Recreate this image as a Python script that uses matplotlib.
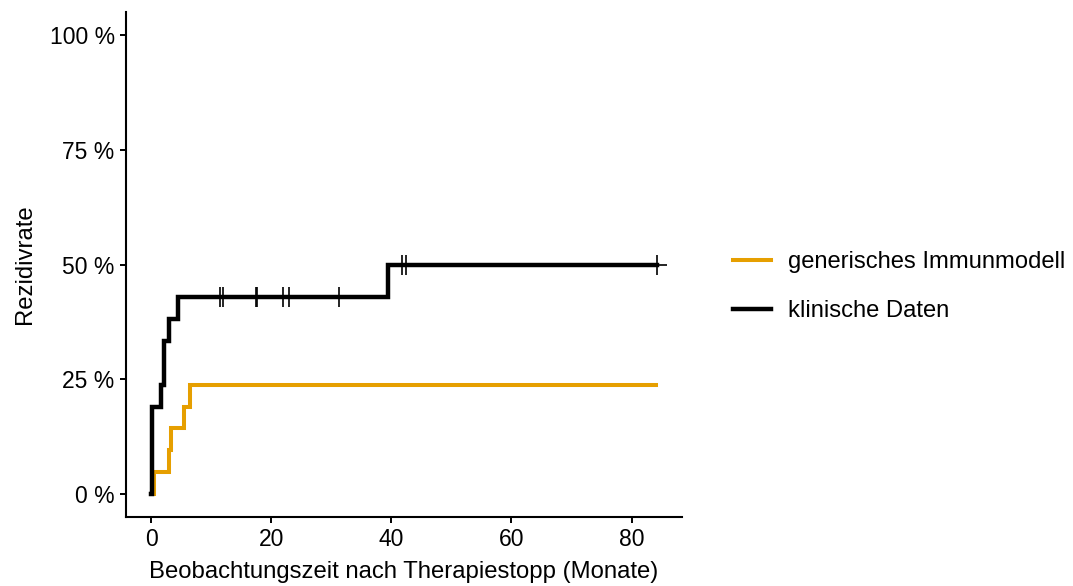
import numpy as np
import matplotlib
matplotlib.use("Agg")
import matplotlib.pyplot as plt
from matplotlib.ticker import FuncFormatter

plt.rcParams['font.family'] = ['Liberation Sans', 'DejaVu Sans']

# ---- data ----
series_names = ["generisches Immunmodell", "klinische Daten"]
series_colors = ["#E69F00", "#000000"]

model_times = [0, 0.5, 3.0, 3.3, 5.5, 6.4, 84.0]
model_rate = [0, 4.76, 9.52, 14.29, 19.05, 23.81, 23.81]

clin_times = [0, 0.2, 1.6, 2.2, 3.0, 4.4, 39.4, 84.2]
clin_rate = [0, 19.05, 23.81, 33.33, 38.10, 42.86, 50.0, 50.0]

clin_censor = [11.5, 11.9, 17.45, 17.65, 21.9, 22.9, 31.3, 41.7, 42.5, 84.2]

x_ticks = [0, 20, 40, 60, 80]
y_ticks = [0, 25, 50, 75, 100]
x_label = "Beobachtungszeit nach Therapiestopp (Monate)"
y_label = "Rezidivrate"

# ---- figure ----
fig = plt.figure(figsize=(10.73, 5.86), dpi=100)
ax = fig.add_axes([126 / 1073, 1 - 517 / 586, (682 - 126) / 1073, (517 - 12) / 586])

FS_TICK = 16.5
FS_TITLE = 17.2
FS_LEG = 17.1

l1, = ax.step(model_times, model_rate, where="post", color=series_colors[0],
              lw=2.9, label=series_names[0], solid_joinstyle="miter")
l2, = ax.step(clin_times, clin_rate, where="post", color=series_colors[1],
              lw=3.2, label=series_names[1], solid_joinstyle="miter")


def step_value(t, times, vals):
    idx = np.searchsorted(times, t, side="right") - 1
    return vals[idx]


cy = [step_value(t, clin_times, clin_rate) for t in clin_censor]
ax.plot(clin_censor, cy, ls="none", marker="+", ms=14.5, mew=1.2,
        color=series_colors[1])

ax.set_xlim(-4.2, 88.4)
ax.set_ylim(-5, 105)
ax.set_xticks(x_ticks)
ax.set_yticks(y_ticks)
ax.yaxis.set_major_formatter(FuncFormatter(lambda v, p: f"{int(v)} %"))

for s in ["top", "right"]:
    ax.spines[s].set_visible(False)
for s in ["left", "bottom"]:
    ax.spines[s].set_linewidth(1.5)
ax.tick_params(axis="both", length=4.6, width=1.4, labelsize=FS_TICK, pad=3.5,
               colors="black")
ax.set_xlabel(x_label, fontsize=FS_TITLE, labelpad=7)
ax.set_ylabel(y_label, fontsize=FS_TITLE, labelpad=10)

fig.legend(handles=[l1, l2], labels=series_names, loc="upper left",
           bbox_to_anchor=(733 / 1073, 1 - 251 / 586), frameon=False,
           fontsize=FS_LEG, handlelength=1.6, handletextpad=0.7,
           labelspacing=1.15, borderpad=0, borderaxespad=0)

fig.savefig("out.png", dpi=100)
